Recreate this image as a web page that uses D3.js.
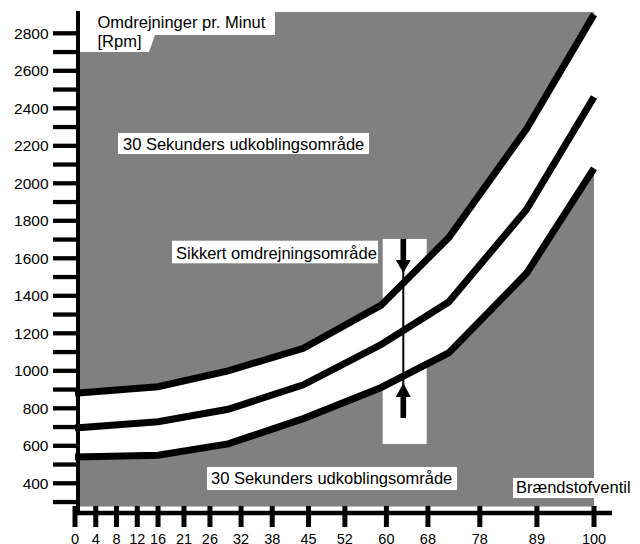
<!DOCTYPE html>
<html>
<head>
<meta charset="utf-8">
<script src="https://cdn.jsdelivr.net/npm/d3@7"></script>
<style>
  body { margin: 0; background: #fff; }
  svg { display: block; font-family: "Liberation Sans", Arial, sans-serif; }
</style>
</head>
<body>
<svg id="chart" width="640" height="544"></svg>
<script>
// x ticks (fuel valve %), y ticks (rpm)
var xTicks = [0, 4, 8, 12, 16, 21, 26, 32, 38, 45, 52, 60, 68, 78, 89, 100];
var yTicks = [300, 400, 500, 600, 700, 800, 900, 1000, 1100, 1200, 1300, 1400, 1500, 1600,
              1700, 1800, 1900, 2000, 2100, 2200, 2300, 2400, 2500, 2600, 2700, 2800];

// the three curves
var curveX = [0, 16, 29.5, 44, 59, 72, 87, 100];
var upper  = [880, 915, 1000, 1120, 1350, 1710, 2290, 2900];
var middle = [695, 728, 795, 925, 1140, 1367, 1860, 2460];
var lower  = [540, 550, 610, 745, 911, 1095, 1520, 2080];

var svg = d3.select("#chart");
var x = d3.scaleLinear().domain([0, 100]).range([75, 594]);
var y = d3.scaleLinear().domain([400, 2800]).range([483.3, 33.3]);

var grey = "#808080";

// grey background with the cut-out for the title
svg.append("polygon")
    .attr("points", [[80,52],[149,52],[155,35],[275,35],[275,12],[594,12],[594,506.5],[80,506.5]].join(" "))
    .attr("fill", grey);

// white box behind the arrow
svg.append("rect").attr("x", 382.7).attr("y", 239).attr("width", 44).attr("height", 205).attr("fill", "#fff");

var pts = curveX.map((d, i) => ({x: d, top: upper[i], mid: middle[i], low: lower[i]}));

// white safe band
svg.append("path")
    .datum(pts)
    .attr("fill", "#fff")
    .attr("d", d3.area().x(d => x(d.x)).y0(d => y(d.low)).y1(d => y(d.top)));

["top", "mid", "low"].forEach(function(k){
    svg.append("path")
        .datum(pts)
        .attr("fill", "none")
        .attr("stroke", "#000")
        .attr("stroke-width", 7)
        .attr("stroke-linejoin", "miter")
        .attr("d", d3.line().x(d => x(d.x)).y(d => y(d[k])));
});

// labels with white boxes
function label(txt, bx, by, bw, bh, tx, ty){
    svg.append("rect").attr("x", bx).attr("y", by).attr("width", bw).attr("height", bh).attr("fill", "#fff");
    svg.append("text").attr("x", tx).attr("y", ty).attr("font-size", "16.5px").attr("fill", "#000").text(txt);
}
label("30 Sekunders udkoblingsområde", 118, 133, 251, 21, 123, 150);
label("Sikkert omdrejningsområde", 172, 240.7, 206, 22.6, 176, 259);
label("30 Sekunders udkoblingsområde", 207, 467, 250, 23, 211, 484);
label("Brændstofventil", 513, 478, 118, 20, 516, 493);

svg.append("text").attr("x", 97.5).attr("y", 28).attr("font-size", "16.5px").text("Omdrejninger pr. Minut");
svg.append("text").attr("x", 97.5).attr("y", 47).attr("font-size", "16.5px").text("[Rpm]");

// arrows
var ax = 403.3;
svg.append("line").attr("x1", ax).attr("x2", ax).attr("y1", 239).attr("y2", 418).attr("stroke", "#000").attr("stroke-width", 2);
svg.append("rect").attr("x", ax - 2.8).attr("y", 239).attr("width", 5.6).attr("height", 22).attr("fill", "#000");
svg.append("polygon").attr("points", [[ax - 7.5, 260], [ax + 7.5, 260], [ax, 273]].join(" ")).attr("fill", "#000");
svg.append("rect").attr("x", ax - 2.8).attr("y", 396).attr("width", 5.6).attr("height", 22).attr("fill", "#000");
svg.append("polygon").attr("points", [[ax - 7.5, 397], [ax + 7.5, 397], [ax, 383]].join(" ")).attr("fill", "#000");

// y axis
svg.append("line").attr("x1", 78).attr("x2", 78).attr("y1", 11).attr("y2", 515).attr("stroke", "#000").attr("stroke-width", 4);
svg.selectAll(".ytick").data(yTicks).enter().append("line")
    .attr("x1", 53).attr("x2", 76)
    .attr("y1", d => y(d)).attr("y2", d => y(d))
    .attr("stroke", "#000").attr("stroke-width", 4.3);
svg.selectAll(".ylab").data(yTicks.filter(d => d % 200 === 0)).enter().append("text")
    .attr("x", 48.5).attr("y", d => y(d)).attr("dy", "0.36em")
    .attr("text-anchor", "end").attr("font-size", "15.5px")
    .text(d => d);

// x axis
svg.append("line").attr("x1", 73).attr("x2", 612).attr("y1", 513).attr("y2", 513).attr("stroke", "#000").attr("stroke-width", 4.3);
svg.selectAll(".xtick").data(xTicks).enter().append("line")
    .attr("x1", d => x(d)).attr("x2", d => x(d))
    .attr("y1", 506).attr("y2", 527)
    .attr("stroke", "#000").attr("stroke-width", 5);
svg.selectAll(".xlab").data(xTicks).enter().append("text")
    .attr("x", d => x(d)).attr("y", 543.5)
    .attr("text-anchor", "middle").attr("font-size", "14.5px")
    .text(d => d);
</script>
</body>
</html>
